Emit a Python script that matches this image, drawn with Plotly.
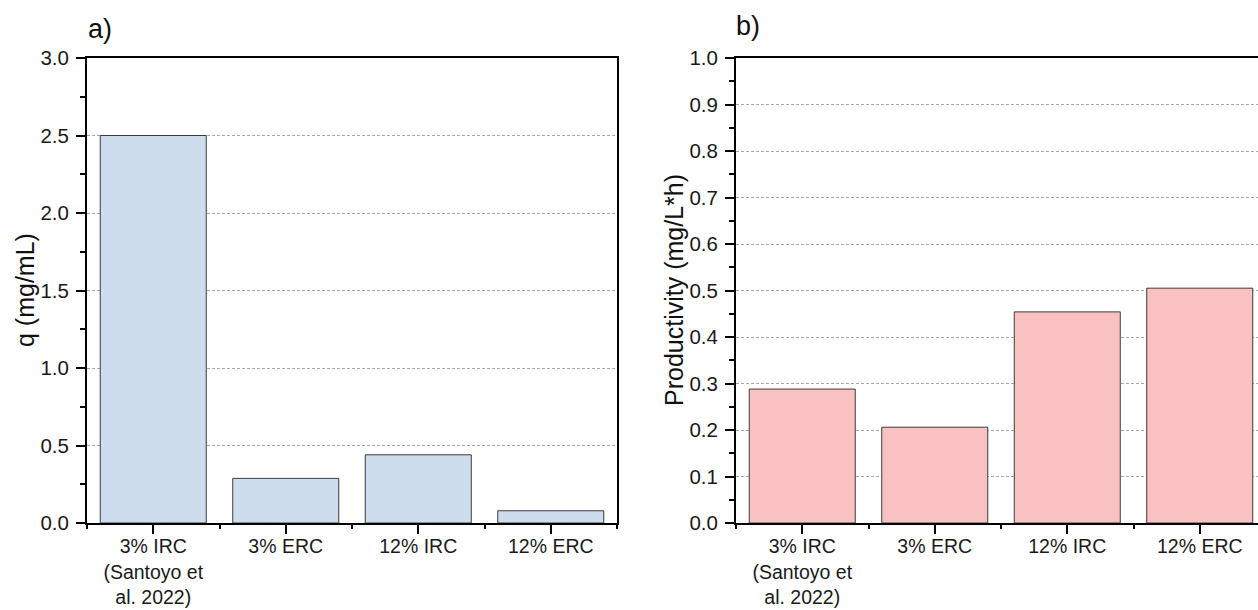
import plotly.graph_objects as go

# ---- data ----
categories = ["3% IRC<br>(Santoyo et<br>al. 2022)", "3% ERC", "12% IRC", "12% ERC"]
q_values = [2.50, 0.288, 0.440, 0.079]
productivity_values = [0.288, 0.206, 0.454, 0.505]
q_title = "q (mg/mL)"
prod_title = "Productivity (mg/L*h)"
panel_labels = ["a)", "b)"]

W, H = 1258, 610
FONT = "Liberation Sans, Arial, sans-serif"
x_pos = list(range(len(categories)))
boundaries = [i - 0.5 for i in range(len(categories) + 1)]

fig = go.Figure()
fig.add_trace(go.Bar(x=x_pos, y=q_values, width=0.8,
                     marker=dict(color="#cddded", line=dict(color="#3a3a3a", width=1)),
                     xaxis="x", yaxis="y", showlegend=False, hoverinfo="skip"))
fig.add_trace(go.Bar(x=x_pos, y=productivity_values, width=0.8,
                     marker=dict(color="#fac1c2", line=dict(color="#3a3a3a", width=1)),
                     xaxis="x2", yaxis="y2", showlegend=False, hoverinfo="skip"))

ydom = [(H - 523) / H, (H - 58) / H]
common_x = dict(showline=True, linecolor="black", linewidth=2, mirror=True,
                ticks="outside", ticklen=9, tickwidth=1.5, tickcolor="black",
                tickmode="array", tickvals=x_pos, ticktext=categories,
                tickfont=dict(family=FONT, size=19.5, color="#1a1a1a"),
                ticklabelstandoff=-4,
                showgrid=False, zeroline=False, automargin=False,
                minor=dict(tickmode="array", tickvals=boundaries, ticks="outside",
                           ticklen=4, tickwidth=1.5, tickcolor="black", showgrid=False))
common_y = dict(showline=True, linecolor="black", linewidth=2,
                ticks="outside", ticklen=9, tickwidth=1.5, tickcolor="black",
                tickformat=".1f", tickfont=dict(family=FONT, size=20.5, color="#1a1a1a"),
                ticklabelstandoff=3,
                showgrid=True, gridcolor="#a8a8a8", gridwidth=1, griddash="3px,2px",
                zeroline=False, automargin=False)

fig.update_layout(
    width=W, height=H, autosize=False,
    margin=dict(l=0, r=0, t=0, b=0),
    paper_bgcolor="white", plot_bgcolor="white",
    bargap=0.2,
    xaxis=dict(domain=[87 / W, 617 / W], range=[-0.5, 3.5], anchor="y", **common_x),
    yaxis=dict(domain=ydom, range=[0, 3.0], dtick=0.5, tick0=0, anchor="x", mirror=True,
               minor=dict(dtick=0.25, tick0=0, ticks="outside", ticklen=5, tickwidth=1.5,
                          tickcolor="black", showgrid=False),
               **common_y),
    xaxis2=dict(domain=[736 / W, 1.0], range=[-0.5, -0.5 + (W - 736) / 132.5], anchor="y2", **common_x),
    yaxis2=dict(domain=ydom, range=[0, 1.0], dtick=0.1, tick0=0, anchor="x2", mirror=False,
                minor=dict(dtick=0.05, tick0=0, ticks="outside", ticklen=5, tickwidth=1.5,
                           tickcolor="black", showgrid=False),
                **common_y),
    annotations=[
        dict(text=q_title, textangle=-90, x=25 / W, y=(H - 290) / H, xref="paper", yref="paper",
             xanchor="center", yanchor="middle", showarrow=False,
             font=dict(family=FONT, size=25, color="#111")),
        dict(text=prod_title, textangle=-90, x=674 / W, y=(H - 290) / H, xref="paper", yref="paper",
             xanchor="center", yanchor="middle", showarrow=False,
             font=dict(family=FONT, size=25, color="#111")),
        dict(text=panel_labels[0], x=86 / W, y=(H - 29) / H, xref="paper", yref="paper",
             xanchor="left", yanchor="middle", showarrow=False,
             font=dict(family=FONT, size=27, color="#111")),
        dict(text=panel_labels[1], x=734 / W, y=(H - 26) / H, xref="paper", yref="paper",
             xanchor="left", yanchor="middle", showarrow=False,
             font=dict(family=FONT, size=27, color="#111")),
    ],
)

fig.write_html("out.html", config={"displayModeBar": False},
               post_script="document.body.style.margin='0';document.body.style.overflow='hidden';")
